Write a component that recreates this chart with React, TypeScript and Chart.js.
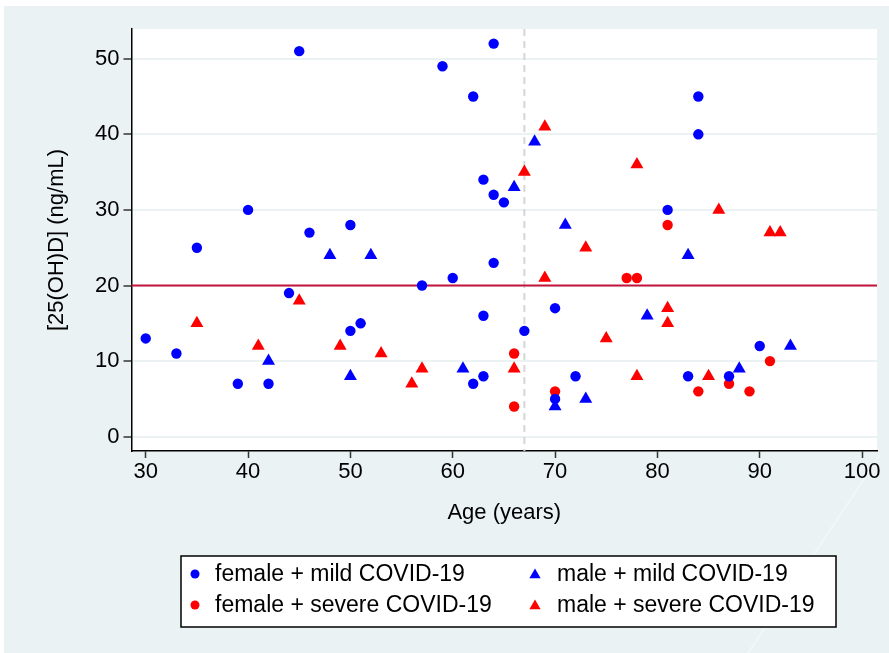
import React, { useEffect, useRef } from 'react';
import { Chart, registerables } from 'chart.js';

Chart.register(...registerables);

// ---- Data ----
const xTicks = [30, 40, 50, 60, 70, 80, 90, 100];
const yTicks = [0, 10, 20, 30, 40, 50];

const femaleMildAge = [30, 33, 35, 39, 40, 42, 44, 45, 46, 50, 50, 51, 57, 59, 60, 62, 62, 63, 63, 63, 64, 64, 64, 65, 67, 70, 70, 72, 81, 83, 84, 84, 87, 90];
const femaleMildVal = [13, 11, 25, 7, 30, 7, 19, 51, 27, 28, 14, 15, 20, 49, 21, 45, 7, 34, 16, 8, 52, 32, 23, 31, 14, 17, 5, 8, 30, 8, 45, 40, 8, 12];

const maleMildAge = [42, 48, 50, 52, 61, 66, 68, 70, 71, 73, 79, 83, 88, 93];
const maleMildVal = [10, 24, 8, 24, 9, 33, 39, 4, 28, 5, 16, 24, 9, 12];

const femaleSevereAge = [66, 66, 70, 77, 78, 81, 84, 87, 89, 91];
const femaleSevereVal = [11, 4, 6, 21, 21, 28, 6, 7, 6, 10];

const maleSevereAge = [35, 41, 45, 49, 53, 56, 57, 66, 67, 69, 69, 73, 75, 78, 78, 81, 81, 85, 86, 91, 92];
const maleSevereVal = [15, 12, 18, 12, 11, 7, 9, 9, 35, 41, 21, 25, 13, 36, 8, 17, 15, 8, 30, 27, 27];

const cutoffValue = 20;
const medianAge = 67;

const legendLabels = [
  'female + mild COVID-19',
  'male + mild COVID-19',
  'female + severe COVID-19',
  'male + severe COVID-19',
];

const toPoints = (xs: number[], ys: number[]) => xs.map((x, i) => ({ x, y: ys[i] }));

const W = 889;
const H = 653;
const FONT = "'Liberation Sans', Arial, Helvetica, sans-serif";
const BLUE = '#0000ff';
const RED = '#ff0000';
const TITLE_SIZE = 22;
const TICK_SIZE = 22;

export default function App() {
  const ref = useRef<HTMLCanvasElement>(null);

  useEffect(() => {
    const canvas = ref.current;
    if (!canvas) return;

    const bgPlugin = {
      id: 'bgPlugin',
      beforeDraw(chart: any) {
        const { ctx, chartArea: a } = chart;
        ctx.save();
        ctx.fillStyle = '#ffffff';
        ctx.fillRect(0, 0, W, H);
        ctx.fillStyle = '#eaf2f3';
        ctx.fillRect(4, 6, W - 4, H - 6);
        ctx.strokeStyle = '#f2f7f8';
        ctx.lineWidth = 2;
        ctx.beginPath();
        ctx.moveTo(880, 455);
        ctx.lineTo(748, 653);
        ctx.stroke();
        ctx.fillStyle = '#ffffff';
        ctx.fillRect(a.left, a.top, a.right - a.left, a.bottom - a.top);
        ctx.restore();
      },
    };

    const refLinesPlugin = {
      id: 'refLines',
      beforeDatasetsDraw(chart: any) {
        const { ctx, chartArea: a, scales } = chart;
        const px = scales.x.getPixelForValue(medianAge);
        const py = scales.y.getPixelForValue(cutoffValue);
        ctx.save();
        ctx.strokeStyle = '#d6d6d6';
        ctx.lineWidth = 2;
        ctx.setLineDash([7, 5]);
        ctx.beginPath();
        ctx.moveTo(px, a.top);
        ctx.lineTo(px, a.bottom);
        ctx.stroke();
        ctx.setLineDash([]);
        ctx.strokeStyle = '#c4143c';
        ctx.lineWidth = 2;
        ctx.beginPath();
        ctx.moveTo(a.left, py);
        ctx.lineTo(a.right, py);
        ctx.stroke();
        ctx.restore();
      },
    };

    const legendPlugin = {
      id: 'customLegend',
      afterDraw(chart: any) {
        const ctx = chart.ctx;
        ctx.save();
        ctx.fillStyle = '#ffffff';
        ctx.fillRect(181, 556, 655, 71);
        ctx.strokeStyle = '#000000';
        ctx.lineWidth = 1.5;
        ctx.strokeRect(181, 556, 655, 71);
        const entries = [
          { label: legendLabels[0], color: BLUE, shape: 'circle', mx: 195, tx: 215, y: 575 },
          { label: legendLabels[1], color: BLUE, shape: 'triangle', mx: 535, tx: 557, y: 575 },
          { label: legendLabels[2], color: RED, shape: 'circle', mx: 195, tx: 215, y: 606 },
          { label: legendLabels[3], color: RED, shape: 'triangle', mx: 535, tx: 557, y: 606 },
        ];
        ctx.font = `23px ${FONT}`;
        ctx.textBaseline = 'middle';
        ctx.textAlign = 'left';
        for (const e of entries) {
          ctx.fillStyle = e.color;
          ctx.beginPath();
          if (e.shape === 'circle') {
            ctx.arc(e.mx, e.y - 1, 4.5, 0, Math.PI * 2);
          } else {
            const r = 6.5;
            const cy = e.y;
            ctx.moveTo(e.mx, cy - r);
            ctx.lineTo(e.mx + r * Math.sin((2 * Math.PI) / 3), cy - r * Math.cos((2 * Math.PI) / 3));
            ctx.lineTo(e.mx + r * Math.sin((4 * Math.PI) / 3), cy - r * Math.cos((4 * Math.PI) / 3));
            ctx.closePath();
          }
          ctx.fill();
          ctx.fillStyle = '#000000';
          ctx.fillText(e.label, e.tx, e.y);
        }
        ctx.restore();
      },
    };

    const halfTitle = (TITLE_SIZE * 1.2) / 2;

    const chart = new Chart(canvas, {
      type: 'scatter',
      data: {
        datasets: [
          {
            label: legendLabels[0],
            data: toPoints(femaleMildAge, femaleMildVal),
            pointStyle: 'circle',
            pointRadius: 5.2,
            pointBorderWidth: 0,
            backgroundColor: BLUE,
            borderColor: BLUE,
          },
          {
            label: legendLabels[1],
            data: toPoints(maleMildAge, maleMildVal),
            pointStyle: 'triangle',
            pointRadius: 7.5,
            pointBorderWidth: 0,
            backgroundColor: BLUE,
            borderColor: BLUE,
          },
          {
            label: legendLabels[2],
            data: toPoints(femaleSevereAge, femaleSevereVal),
            pointStyle: 'circle',
            pointRadius: 5.2,
            pointBorderWidth: 0,
            backgroundColor: RED,
            borderColor: RED,
          },
          {
            label: legendLabels[3],
            data: toPoints(maleSevereAge, maleSevereVal),
            pointStyle: 'triangle',
            pointRadius: 7.5,
            pointBorderWidth: 0,
            backgroundColor: RED,
            borderColor: RED,
          },
        ],
      },
      options: {
        responsive: false,
        animation: false,
        events: [],
        layout: { padding: { left: 57 - halfTitle, top: 29, right: 12, bottom: H - (513 + halfTitle) } },
        plugins: {
          legend: { display: false },
          tooltip: { enabled: false },
        },
        scales: {
          x: {
            type: 'linear',
            min: 28.61,
            max: 101.46,
            afterBuildTicks: (s: any) => {
              s.ticks = xTicks.map((v) => ({ value: v }));
            },
            afterFit: (s: any) => {
              s.height = 513 + halfTitle - 451;
            },
            grid: {
              drawOnChartArea: false,
              drawTicks: true,
              tickLength: 7,
              tickColor: '#333333',
              tickWidth: 1.5,
            },
            border: { display: true, color: '#000000', width: 1.5 },
            ticks: {
              font: { family: FONT, size: TICK_SIZE },
              color: '#000000',
              padding: 1,
              maxRotation: 0,
              autoSkip: false,
            },
            title: {
              display: true,
              text: 'Age (years)',
              font: { family: FONT, size: TITLE_SIZE },
              color: '#000000',
              padding: 0,
            },
          },
          y: {
            type: 'linear',
            min: -1.89,
            max: 53.93,
            afterBuildTicks: (s: any) => {
              s.ticks = yTicks.map((v) => ({ value: v }));
            },
            afterFit: (s: any) => {
              s.width = 131.5 - (57 - halfTitle);
            },
            grid: {
              color: '#eaf2f3',
              lineWidth: 2,
              drawTicks: true,
              tickLength: 8,
              tickColor: '#333333',
              tickWidth: 1.5,
            },
            border: { display: true, color: '#000000', width: 1.5 },
            ticks: {
              font: { family: FONT, size: TICK_SIZE },
              color: '#000000',
              padding: 4,
              autoSkip: false,
            },
            title: {
              display: true,
              text: '[25(OH)D] (ng/mL)',
              font: { family: FONT, size: TITLE_SIZE },
              color: '#000000',
              padding: 0,
            },
          },
        },
      },
      plugins: [bgPlugin, refLinesPlugin, legendPlugin],
    } as any);

    return () => {
      chart.destroy();
    };
  }, []);

  return (
    <div style={{ position: 'fixed', left: 0, top: 0, width: W, height: H }}>
      <canvas ref={ref} width={W} height={H} style={{ width: W, height: H, display: 'block' }} />
    </div>
  );
}
